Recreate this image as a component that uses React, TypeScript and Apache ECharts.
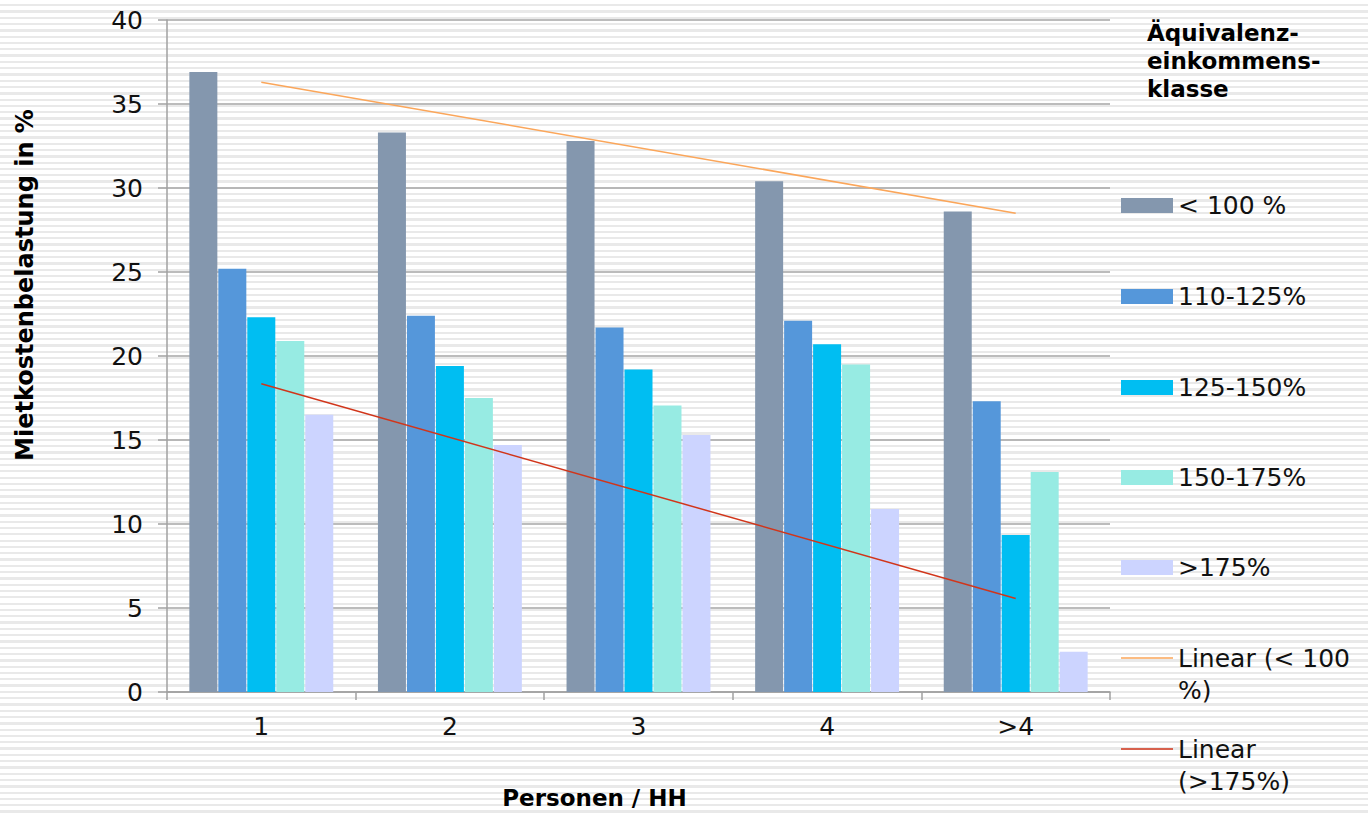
import React, { useEffect, useRef } from "react";
import * as echarts from "echarts";

const categories = ["1", "2", "3", "4", ">4"];
const seriesNames = ["< 100 %", "110-125%", "125-150%", "150-175%", ">175%"];
const below100 = [36.9, 33.3, 32.8, 30.4, 28.6];
const s110to125 = [25.2, 22.4, 21.7, 22.1, 17.3];
const s125to150 = [22.3, 19.4, 19.2, 20.7, 9.35];
const s150to175 = [20.9, 17.5, 17.05, 19.5, 13.1];
const above175 = [16.5, 14.7, 15.3, 10.9, 2.4];
const barColors = ["#8497AE", "#5597DA", "#00BEF2", "#97EBE3", "#CCD4FF"];
const trendNames = ["Linear (< 100 %)", "Linear (>175%)"];
const trendLabels = ["Linear (< 100\n%)", "Linear\n(>175%)"];
const trendBelow100 = [["1", 36.3], [">4", 28.5]];
const trendAbove175 = [["1", 18.35], [">4", 5.57]];
const trendColors = ["#FBA65A", "#D1351A"];
const yMin = 0;
const yMax = 40;
const yInterval = 5;

const FONT = "DejaVu Sans, Verdana, sans-serif";
const LINE_ICON =
  "path://M0,0 L0.01,0 M0,15.25 L52,15.25 L52,16.75 L0,16.75 Z M0,64 L0.01,64";

export default function App() {
  const ref = useRef<HTMLDivElement>(null);
  useEffect(() => {
    if (!ref.current) return;
    const chart = echarts.init(ref.current, undefined, { renderer: "svg" });
    const barData = [below100, s110to125, s125to150, s150to175, above175];
    const legendTops = [193, 284, 375, 465, 555];
    const legends: any[] = seriesNames.map((n, i) => ({
      data: [n],
      left: 1121,
      top: legendTops[i],
      padding: 0,
      orient: "vertical",
      itemWidth: 52,
      itemHeight: 15,
      itemGap: 0,
      textStyle: { fontFamily: FONT, fontSize: 25, color: "#111" },
      icon: "rect",
      selectedMode: false,
    }));
    const trendTops = [642, 733];
    trendNames.forEach((n, i) => {
      legends.push({
        data: [n],
        left: 1121,
        top: trendTops[i],
        padding: 0,
        orient: "vertical",
        itemWidth: 52,
        itemHeight: 64,
        itemGap: 0,
        icon: LINE_ICON,
        selectedMode: false,
        formatter: trendLabels[i],
        textStyle: {
          fontFamily: FONT,
          fontSize: 25,
          color: "#111",
          lineHeight: 32,
        },
      });
    });
    const series: any[] = seriesNames.map((n, i) => ({
      name: n,
      type: "bar",
      data: barData[i],
      barWidth: 28,
      barGap: "3.5%",
      itemStyle: { color: barColors[i] },
    }));
    series.push({
      name: trendNames[0],
      type: "line",
      data: trendBelow100,
      symbol: "none",
      lineStyle: { color: trendColors[0], width: 1.5 },
      itemStyle: { color: trendColors[0] },
      z: 5,
    });
    series.push({
      name: trendNames[1],
      type: "line",
      data: trendAbove175,
      symbol: "none",
      lineStyle: { color: trendColors[1], width: 1.5 },
      itemStyle: { color: trendColors[1] },
      z: 5,
    });
    chart.setOption({
      animation: false,
      backgroundColor: "transparent",
      title: {
        text: "Äquivalenz-\neinkommens-\nklasse",
        left: 1147,
        top: 19,
        padding: 0,
        textStyle: {
          fontFamily: FONT,
          fontSize: 23,
          fontWeight: "bold",
          color: "#000",
          lineHeight: 28,
        },
      },
      legend: legends,
      grid: { left: 167, right: 258, top: 20, bottom: 119 },
      xAxis: {
        type: "category",
        data: categories,
        name: "Personen / HH",
        nameLocation: "middle",
        nameGap: 94,
        nameTextStyle: {
          fontFamily: FONT,
          fontSize: 23,
          fontWeight: "bold",
          color: "#000",
          padding: [0, 88, 0, 0],
        },
        axisLine: { lineStyle: { color: "#A0A0A0", width: 1.5 } },
        axisTick: { show: true, length: 8, lineStyle: { color: "#A0A0A0", width: 1.5 } },
        axisLabel: { fontFamily: FONT, fontSize: 25, color: "#111", margin: 22 },
      },
      yAxis: {
        type: "value",
        min: yMin,
        max: yMax,
        interval: yInterval,
        name: "Mietkostenbelastung in %",
        nameLocation: "middle",
        nameRotate: 90,
        nameGap: 130,
        nameTextStyle: {
          fontFamily: FONT,
          fontSize: 24,
          fontWeight: "bold",
          color: "#000",
          padding: [0, 0, 0, 142],
        },
        axisLine: { show: true, lineStyle: { color: "#A0A0A0", width: 1.5 } },
        axisTick: { show: true, length: 9, lineStyle: { color: "#A0A0A0", width: 1.5 } },
        axisLabel: { fontFamily: FONT, fontSize: 25, color: "#111", margin: 24 },
        splitLine: { lineStyle: { color: "#A6A6A6", width: 1.5 } },
      },
      series,
    });
    return () => chart.dispose();
  }, []);
  return (
    <div
      style={{
        position: "fixed",
        left: 0,
        top: 0,
        width: 1368,
        height: 814,
        background:
          "repeating-linear-gradient(180deg, #ffffff 0px, #ffffff 4px, #e9e9e9 4px, #e9e9e9 6.3px)",
      }}
    >
      <div ref={ref} style={{ width: 1368, height: 814 }} />
    </div>
  );
}
